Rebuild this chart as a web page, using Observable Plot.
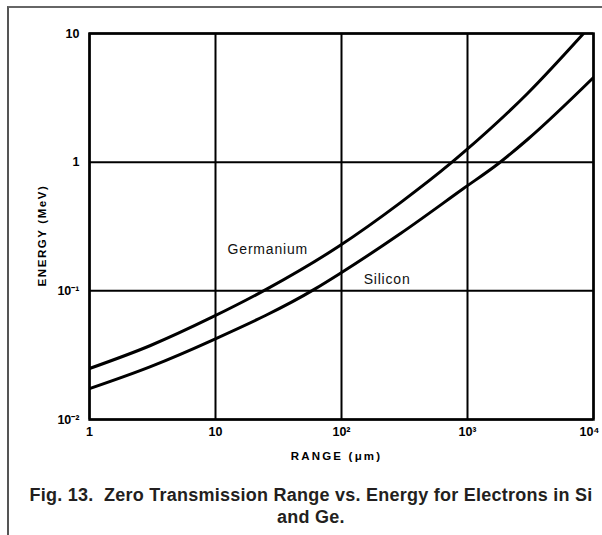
<!DOCTYPE html>
<html>
<head>
<meta charset="utf-8">
<script src="https://cdn.jsdelivr.net/npm/d3@7"></script>
<script src="https://cdn.jsdelivr.net/npm/@observablehq/plot@0.6"></script>
<style>
  html, body { margin: 0; padding: 0; background: #fff; }
  #page { position: relative; width: 602px; height: 535px; overflow: hidden; font-family: "Liberation Sans", Arial, sans-serif; }
  #border { position: absolute; left: 7px; top: 6px; width: 620px; height: 560px; border-left: 2px solid #555; border-top: 2px solid #666; }
  #chart { position: absolute; left: 0; top: 0; }
  #caption { position: absolute; left: 14px; width: 594px; top: 484px; text-align: center; font-weight: bold; font-size: 18px; letter-spacing: 0.25px; line-height: 22px; color: #231f20; white-space: pre; }
</style>
</head>
<body>
<div id="page">
  <div id="border"></div>
  <div id="chart"></div>
  <div id="caption">Fig. 13.  Zero Transmission Range vs. Energy for Electrons in Si
and Ge.</div>
</div>
<script>
// Tick values and labels
const xTicks = [1, 10, 100, 1000, 10000];
const xTickLabels = ["1", "10", "10²", "10³", "10⁴"];
const yTicks = [0.01, 0.1, 1, 10];
const yTickLabels = ["10⁻²", "10⁻¹", "1", "10"];

// Germanium curve (range µm, energy MeV)
const geRange  = [1, 3.05, 9.3, 25.9, 94.6, 294, 733, 929, 2993, 8335];
const geEnergy = [0.0249, 0.0376, 0.0621, 0.104, 0.221, 0.485, 0.977, 1.19, 3.42, 10];

// Silicon curve
const siRange  = [1, 3.05, 9.3, 62.2, 94.6, 294, 929, 1762, 2993, 10000];
const siEnergy = [0.0174, 0.0258, 0.0411, 0.104, 0.134, 0.279, 0.624, 0.977, 1.50, 4.55];

// Curve labels
const labelNames  = ["Germanium", "Silicon"];
const labelRange  = [26, 230];
const labelEnergy = [0.21, 0.122];

const ge = geRange.map((r, i) => ({range: r, energy: geEnergy[i]}));
const si = siRange.map((r, i) => ({range: r, energy: siEnergy[i]}));
const labels = labelNames.map((n, i) => ({name: n, range: labelRange[i], energy: labelEnergy[i]}));

const xFmt = v => xTickLabels[xTicks.indexOf(v)];
const yFmt = v => yTickLabels[yTicks.indexOf(v)];

const chart = Plot.plot({
  width: 602,
  height: 475,
  marginTop: 33,
  marginLeft: 89,
  marginRight: 9,
  marginBottom: 56,
  style: {background: "transparent", fontFamily: "'Liberation Sans', Arial, sans-serif", color: "#000"},
  x: {type: "log", domain: [1, 10000]},
  y: {type: "log", domain: [0.01, 10]},
  marks: [
    Plot.ruleX(xTicks, {stroke: "#000", strokeWidth: 2}),
    Plot.ruleY(yTicks, {stroke: "#000", strokeWidth: 2}),
    Plot.frame({stroke: "#000", strokeWidth: 2.5}),
    Plot.line(ge, {x: "range", y: "energy", curve: "monotone-x", stroke: "#000", strokeWidth: 3, clip: true}),
    Plot.line(si, {x: "range", y: "energy", curve: "monotone-x", stroke: "#000", strokeWidth: 3, clip: true}),
    Plot.text(labels, {x: "range", y: "energy", text: "name", fontSize: 14, fill: "#111", textAnchor: "middle"}),
    Plot.axisX(xTicks, {tickSize: 0, tickPadding: 8, tickFormat: xFmt, fontSize: 12.5, fontWeight: "bold", label: null}),
    Plot.axisY(yTicks, {tickSize: 0, tickPadding: 10, tickFormat: yFmt, fontSize: 12.5, fontWeight: "bold", label: null}),
    Plot.text(["RANGE (μm)"], {frameAnchor: "bottom", dx: -5, dy: 40, fontSize: 11.5, fontWeight: "bold", fill: "#000"}),
    Plot.text(["ENERGY (MeV)"], {frameAnchor: "left", textAnchor: "middle", dx: -47, dy: 9, rotate: -90, fontSize: 11.5, fontWeight: "bold", fill: "#000"})
  ]
});
document.getElementById("chart").appendChild(chart);
// letter spacing for curve labels and axis titles; keep the last x tick label inside the page
d3.select(chart).selectAll("text").each(function() {
  const t = this.textContent;
  if (t === "Germanium" || t === "Silicon") this.style.letterSpacing = "0.8px";
  if (t === "RANGE (μm)") this.style.letterSpacing = "2.2px";
  if (t === "ENERGY (MeV)") this.style.letterSpacing = "1.6px";
  if (t === "10⁴") this.setAttribute("dx", "-4");
});
</script>
</body>
</html>
